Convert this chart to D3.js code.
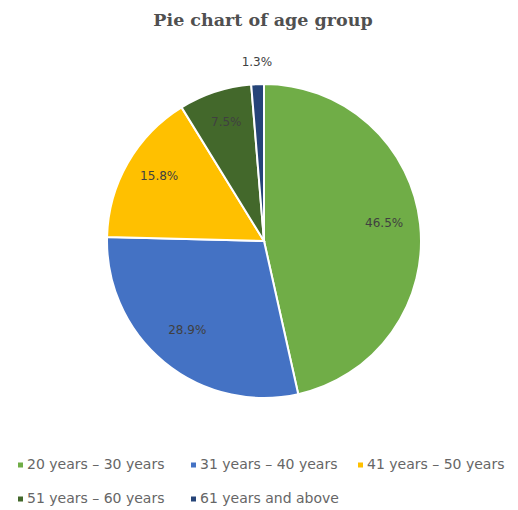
<!DOCTYPE html>
<html>
<head>
<meta charset="utf-8">
<script src="https://cdn.jsdelivr.net/npm/d3@7"></script>
<style>
  html, body { margin: 0; padding: 0; background: #fff; }
  svg { display: block; }
</style>
</head>
<body>
<div id="chart"></div>
<script>
const CATEGORIES = ["20 years – 30 years", "31 years – 40 years", "41 years – 50 years",
                    "51 years – 60 years", "61 years and above"];
const VALUES = [46.5, 28.9, 15.8, 7.5, 1.3];
const COLORS = ["#70ad47", "#4472c4", "#ffc000", "#43682b", "#264478"];

const W = 518, H = 510;
const CX = 264, CY = 241, R = 157;

const svg = d3.select("#chart").append("svg")
  .attr("width", W).attr("height", H).attr("viewBox", `0 0 ${W} ${H}`);

// Title
svg.append("text")
  .attr("x", 263).attr("y", 26).attr("text-anchor", "middle")
  .attr("font-family", "'DejaVu Serif', 'Liberation Serif', serif")
  .attr("font-weight", "bold").attr("font-size", "17.5px").attr("fill", "#505050")
  .text("Pie chart of age group");

const pie = d3.pie().sort(null).value(d => d)(VALUES);
const arc = d3.arc().innerRadius(0).outerRadius(R);
const labelArc = d3.arc().innerRadius(R * 0.77).outerRadius(R * 0.77);
const outerArc = d3.arc().innerRadius(R * 1.11).outerRadius(R * 1.11);

const g = svg.append("g").attr("transform", `translate(${CX},${CY})`);

g.selectAll("path.slice").data(pie).join("path")
  .attr("class", "slice")
  .attr("d", arc)
  .attr("fill", (d, i) => COLORS[i])
  .attr("stroke", "#fff").attr("stroke-width", 2);

// Data labels — inside except the tiny last slice
g.selectAll("text.lbl").data(pie).join("text")
  .attr("class", "lbl")
  .attr("transform", (d, i) => {
    const p = i === pie.length - 1 ? outerArc.centroid(d) : labelArc.centroid(d);
    return `translate(${p[0]},${p[1] - 4})`;
  })
  .attr("text-anchor", "middle").attr("dominant-baseline", "middle")
  .attr("font-family", "'DejaVu Sans', sans-serif")
  .attr("font-size", "12px").attr("fill", "#404040")
  .text(d => d3.format(".1f")(d.data) + "%");

// Legend, two rows
const rows = [[0, 1, 2], [3, 4]];
const colX = [27, 200, 367];
const rowY = [465, 499];
rows.forEach((row, r) => {
  row.forEach((k, c) => {
    const lg = svg.append("g").attr("transform", `translate(${colX[c]},${rowY[r]})`);
    lg.append("rect").attr("x", -9).attr("y", -2.5).attr("width", 5).attr("height", 5)
      .attr("fill", COLORS[k]);
    lg.append("text").attr("x", 0).attr("y", 0).attr("dominant-baseline", "middle")
      .attr("font-family", "'DejaVu Sans', sans-serif")
      .attr("font-size", "14px").attr("fill", "#666")
      .text(CATEGORIES[k]);
  });
});
</script>
</body>
</html>
